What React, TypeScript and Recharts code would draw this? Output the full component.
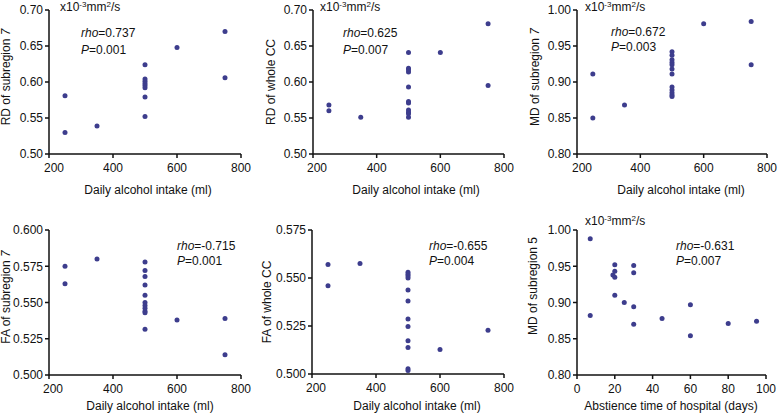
import React from 'react';
import { ScatterChart, Scatter, XAxis, YAxis } from 'recharts';

// axis ticks
const intakeTicks = [200, 400, 600, 800];
const daysTicks = [0, 20, 40, 60, 80, 100];
const rdTicks = [0.5, 0.55, 0.6, 0.65, 0.7];
const mdTicks = [0.8, 0.85, 0.9, 0.95, 1.0];
const fa7Ticks = [0.5, 0.525, 0.55, 0.575, 0.6];
const faCCTicks = [0.5, 0.525, 0.55, 0.575];

// RD of subregion 7 vs daily alcohol intake
const rd7Intake = [250, 250, 350, 500, 500, 500, 500, 500, 500, 500, 500, 600, 750, 750];
const rd7Values = [0.581, 0.53, 0.539, 0.624, 0.604, 0.601, 0.598, 0.595, 0.592, 0.579, 0.552, 0.648, 0.67, 0.606];

// RD of whole CC vs daily alcohol intake
const rdCCIntake = [250, 250, 350, 500, 500, 500, 500, 500, 500, 500, 500, 500, 500, 500, 600, 750, 750];
const rdCCValues = [0.568, 0.56, 0.551, 0.641, 0.619, 0.617, 0.614, 0.593, 0.573, 0.571, 0.561, 0.558, 0.556, 0.551, 0.641, 0.681, 0.595];

// MD of subregion 7 vs daily alcohol intake
const md7Intake = [250, 250, 350, 500, 500, 500, 500, 500, 500, 500, 500, 500, 500, 500, 500, 600, 750, 750];
const md7Values = [0.911, 0.85, 0.868, 0.942, 0.937, 0.931, 0.927, 0.924, 0.918, 0.911, 0.893, 0.889, 0.885, 0.882, 0.88, 0.981, 0.984, 0.924];

// FA of subregion 7 vs daily alcohol intake
const fa7Intake = [250, 250, 350, 500, 500, 500, 500, 500, 500, 500, 500, 500, 500, 500, 600, 750, 750];
const fa7Values = [0.575, 0.563, 0.58, 0.578, 0.572, 0.568, 0.562, 0.555, 0.55, 0.548, 0.546, 0.544, 0.543, 0.5315, 0.538, 0.539, 0.514];

// FA of whole CC vs daily alcohol intake
const faCCIntake = [250, 250, 350, 500, 500, 500, 500, 500, 500, 500, 500, 500, 500, 500, 500, 600, 750];
const faCCValues = [0.557, 0.546, 0.5575, 0.553, 0.552, 0.551, 0.55, 0.5437, 0.538, 0.5286, 0.5248, 0.5173, 0.5138, 0.5027, 0.5018, 0.5128, 0.5228];

// MD of subregion 5 vs abstinence time
const md5Days = [7, 7, 19, 20, 20, 20, 20, 25, 30, 30, 30, 30, 45, 60, 60, 80, 95];
const md5Values = [0.988, 0.882, 0.938, 0.952, 0.943, 0.935, 0.91, 0.9, 0.951, 0.941, 0.894, 0.87, 0.878, 0.897, 0.854, 0.871, 0.874];

const toPoints = (xs: number[], ys: number[]) => xs.map((x, i) => ({ x, y: ys[i] }));

const DOT = '#3d3d8d';
const AXIS = '#111';
const TXT = '#111';
const FONT = '"Liberation Sans", Arial, sans-serif';

const Dot = (props: any) => <circle cx={props.cx} cy={props.cy} r={2.5} fill={DOT} />;

// x tick; the first label sits a little right of its tick, as in the original
const makeXTick = (firstShift: number) => (props: any) => {
  const { x, y, payload, index } = props;
  return (
    <text x={x + (index === 0 ? firstShift : 0)} y={y} dy="0.71em" textAnchor="middle" fontSize={12} fill={TXT}>
      {payload.value}
    </text>
  );
};

type Box = { left: number; top: number; w: number; h: number };
type Plot = { x0: number; x1: number; y0: number; y1: number };

function Panel({ box, plot, xs, ys, xDomain, xTicks, yDomain, yTicks, digits, xH, firstShift = 0 }: {
  box: Box; plot: Plot; xs: number[]; ys: number[];
  xDomain: [number, number]; xTicks: number[]; yDomain: [number, number]; yTicks: number[];
  digits: number; xH: number; firstShift?: number;
}) {
  const margin = {
    top: plot.y0 - box.top,
    right: box.left + box.w - plot.x1,
    left: 0,
    bottom: box.top + box.h - plot.y1 - xH,
  };
  const axisLine = { stroke: AXIS, strokeWidth: 1.5 };
  return (
    <div style={{ position: 'absolute', left: box.left, top: box.top }}>
      <ScatterChart width={box.w} height={box.h} margin={margin}>
        <XAxis
          type="number"
          dataKey="x"
          domain={xDomain}
          ticks={xTicks}
          interval={0}
          height={xH}
          tickSize={4}
          tickMargin={5}
          axisLine={axisLine}
          tickLine={axisLine}
          tick={makeXTick(firstShift)}
        />
        <YAxis
          type="number"
          dataKey="y"
          domain={yDomain}
          ticks={yTicks}
          interval={0}
          width={plot.x0 - box.left}
          tickSize={4}
          tickMargin={2}
          axisLine={axisLine}
          tickLine={axisLine}
          tick={{ fill: TXT, fontSize: 12 }}
          tickFormatter={(v: number) => v.toFixed(digits)}
        />
        <Scatter data={toPoints(xs, ys)} shape={Dot} isAnimationActive={false} />
      </ScatterChart>
    </div>
  );
}

const Units = ({ x, y }: { x: number; y: number }) => (
  <text x={x} y={y} fontSize={12} fill={TXT}>
    x10<tspan dy={-4} fontSize={8}>-3</tspan>
    <tspan dy={4}>mm</tspan>
    <tspan dy={-4} fontSize={8}>2</tspan>
    <tspan dy={4}>/s</tspan>
  </text>
);

const Stats = ({ x, y, rho, p, gap = 17 }: { x: number; y: number; rho: string; p: string; gap?: number }) => (
  <g fontSize={12} fill={TXT}>
    <text x={x} y={y}>
      <tspan fontStyle="italic">rho</tspan>={rho}
    </text>
    <text x={x} y={y + gap}>
      <tspan fontStyle="italic">P</tspan>={p}
    </text>
  </g>
);

const YTitle = ({ x, y, text, num, italicNum }: { x: number; y: number; text: string; num?: string; italicNum?: boolean }) => (
  <text x={x} y={y} fontSize={12} fill={TXT} textAnchor="middle" dominantBaseline="central" transform={`rotate(-90 ${x} ${y})`}>
    {text}
    {num ? <tspan fontStyle={italicNum ? 'italic' : 'normal'}>{num}</tspan> : null}
  </text>
);

const XTitle = ({ x, y, text }: { x: number; y: number; text: string }) => (
  <text x={x} y={y} fontSize={12} fill={TXT} textAnchor="middle" dominantBaseline="central">
    {text}
  </text>
);

export default function App() {
  return (
    <div style={{ position: 'absolute', left: 0, top: 0, width: 778, height: 416, background: '#fff', fontFamily: FONT }}>
      <Panel box={{ left: 0, top: 0, w: 260, h: 205 }} plot={{ x0: 49, x1: 241, y0: 10, y1: 154 }} firstShift={5}
        xs={rd7Intake} ys={rd7Values} xDomain={[200, 800]} xTicks={intakeTicks} yDomain={[0.5, 0.7]} yTicks={rdTicks} digits={2} xH={40} />
      <Panel box={{ left: 260, top: 0, w: 258, h: 205 }} plot={{ x0: 313, x1: 504, y0: 10, y1: 154 }} firstShift={4}
        xs={rdCCIntake} ys={rdCCValues} xDomain={[200, 800]} xTicks={intakeTicks} yDomain={[0.5, 0.7]} yTicks={rdTicks} digits={2} xH={40} />
      <Panel box={{ left: 518, top: 0, w: 260, h: 205 }} plot={{ x0: 577, x1: 767, y0: 10, y1: 154 }} firstShift={5}
        xs={md7Intake} ys={md7Values} xDomain={[200, 800]} xTicks={intakeTicks} yDomain={[0.8, 1.0]} yTicks={mdTicks} digits={2} xH={40} />
      <Panel box={{ left: 0, top: 205, w: 260, h: 211 }} plot={{ x0: 49, x1: 241, y0: 230, y1: 375 }} firstShift={4}
        xs={fa7Intake} ys={fa7Values} xDomain={[200, 800]} xTicks={intakeTicks} yDomain={[0.5, 0.6]} yTicks={fa7Ticks} digits={3} xH={36} />
      <Panel box={{ left: 260, top: 205, w: 258, h: 211 }} plot={{ x0: 312, x1: 504, y0: 230, y1: 374 }} firstShift={4}
        xs={faCCIntake} ys={faCCValues} xDomain={[200, 800]} xTicks={intakeTicks} yDomain={[0.5, 0.575]} yTicks={faCCTicks} digits={3} xH={36} />
      <Panel box={{ left: 518, top: 205, w: 260, h: 211 }} plot={{ x0: 577, x1: 766, y0: 230, y1: 375 }}
        xs={md5Days} ys={md5Values} xDomain={[0, 100]} xTicks={daysTicks} yDomain={[0.8, 1.0]} yTicks={mdTicks} digits={2} xH={36} />

      <svg width={778} height={416} style={{ position: 'absolute', left: 0, top: 0, pointerEvents: 'none', fontFamily: FONT }}>
        <Units x={60} y={11} />
        <Units x={320} y={11} />
        <Units x={585} y={11} />
        <Units x={585} y={225} />

        <Stats x={81} y={37} rho="0.737" p="0.001" />
        <Stats x={343} y={37} rho="0.625" p="0.007" />
        <Stats x={611} y={36} rho="0.672" p="0.003" gap={15} />
        <Stats x={177} y={250} rho="-0.715" p="0.001" gap={15} />
        <Stats x={429} y={250} rho="-0.655" p="0.004" gap={15} />
        <Stats x={676} y={250} rho="-0.631" p="0.007" gap={15} />

        <YTitle x={6} y={77} text="RD of subregion " num="7" italicNum />
        <YTitle x={271} y={82} text="RD of whole CC" />
        <YTitle x={535} y={77} text="MD of subregion " num="7" italicNum />
        <YTitle x={6} y={297} text="FA of subregion " num="7" italicNum />
        <YTitle x={267} y={302} text="FA of whole CC" />
        <YTitle x={533} y={286} text="MD of subregion 5" />

        <XTitle x={148} y={190} text="Daily alcohol intake (ml)" />
        <XTitle x={416} y={190} text="Daily alcohol intake (ml)" />
        <XTitle x={681} y={190} text="Daily alcohol intake (ml)" />
        <XTitle x={150} y={406} text="Daily alcohol intake (ml)" />
        <XTitle x={417} y={406} text="Daily alcohol intake (ml)" />
        <XTitle x={671} y={406} text="Abstience time of hospital (days)" />
      </svg>
    </div>
  );
}
